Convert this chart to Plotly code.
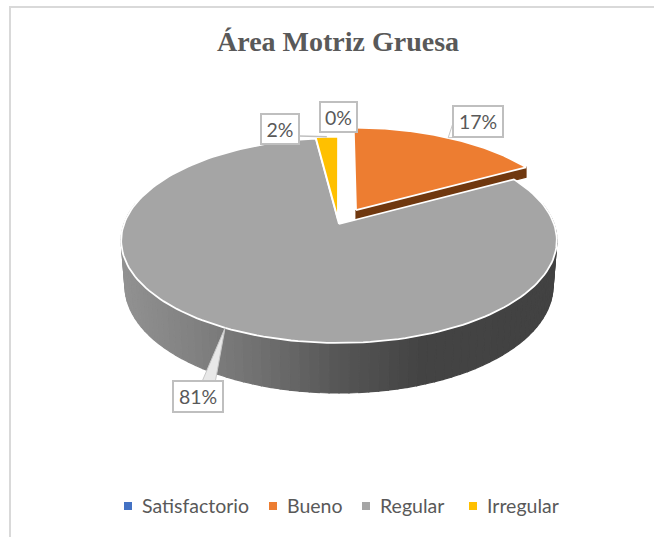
import math
import plotly.graph_objects as go

categories = ["Satisfactorio", "Bueno", "Regular", "Irregular"]
values = [0, 17, 81, 2]
percent_labels = ["0%", "17%", "81%", "2%"]
colors = ["#4472C4", "#ED7D31", "#A5A5A5", "#FFC000"]

W, H = 654, 537
CX, CY, CW, B = 339, 240.5, 215, 102.5
APEX_UP = 16.5
K = APEX_UP / B

# slice displacement in disc units: (du, dv, radius)
EXPLODE = {"Bueno": (0.081, 0.143, 1.0), "Regular": (0, 0, 1.0), "Irregular": (-0.005, 0.05, 0.97),
           "Satisfactorio": (0, 0, 1.0)}
# callout box centres and sizes
BOX = {"Satisfactorio": (338.5, 117, 35, 28), "Bueno": (477.5, 121.5, 48, 29),
       "Regular": (197.5, 396.5, 48, 29), "Irregular": (280, 129, 36, 28)}


def project(u, v):
    d = 1 + K * v
    return CX + CW * u / d, CY - (B * v + APEX_UP) / d


def lower(u, v):
    x, y = project(u, v)
    return CX + (x - CX) * 0.983, y + 44 - 6 * v


def rim(name, a):
    du, dv, r = EXPLODE[name]
    t = math.radians(a)
    return du + r * math.sin(t), dv + r * math.cos(t)


def arc(a0, a1, n):
    return [a0 + (a1 - a0) * i / n for i in range(n + 1)]


def wall_shade(x):
    stops = [(120, 146), (200, 128), (260, 112), (340, 86), (420, 68), (560, 66)]
    for (x0, g0), (x1, g1) in zip(stops, stops[1:]):
        if x <= x1:
            g = int(g0 + (g1 - g0) * (x - x0) / (x1 - x0))
            return f"rgb({g},{g},{g})"
    g = stops[-1][1]
    return f"rgb({g},{g},{g})"


# cumulative angles
total = sum(values)
angles = {}
start = 0
for c, val in zip(categories, values):
    end = start + 360 * val / total
    angles[c] = (start, end)
    start = end

fig = go.Figure()


def poly(pts, fill, line=None, lw=0):
    xs = [p[0] for p in pts] + [pts[0][0]]
    ys = [p[1] for p in pts] + [pts[0][1]]
    fig.add_trace(go.Scatter(x=xs, y=ys, mode="lines", fill="toself", fillcolor=fill,
                             line=dict(color=line or fill, width=lw if line else 1.2),
                             hoverinfo="skip", showlegend=False))


# front wall of the big slice, as shaded strips
a0, a1 = angles["Regular"]
strips = arc(max(a0, 78), min(a1, 282), 90)
for s0, s1 in zip(strips, strips[1:]):
    u0, v0 = rim("Regular", s0)
    u1, v1 = rim("Regular", s1)
    pts = [project(u0, v0), project(u1, v1), lower(u1, v1), lower(u0, v0)]
    poly(pts, wall_shade((pts[0][0] + pts[1][0]) / 2))

# cut face of the exploded slice
b0, b1 = angles["Bueno"]
ap = project(EXPLODE["Bueno"][0], EXPLODE["Bueno"][1])
end_pt = project(*rim("Bueno", b1))
poly([ap, end_pt, (end_pt[0], end_pt[1] + 10), (ap[0], ap[1] + 10)], "#70380F")

# top faces
for c, col in zip(categories, colors):
    a0, a1 = angles[c]
    if a1 - a0 <= 0:
        continue
    du, dv, r = EXPLODE[c]
    pts = [project(du, dv)] + [project(*rim(c, a)) for a in arc(a0, a1, 180)]
    poly(pts, col, "#FFFFFF", 1.8)

# callouts
annotations = []
for c, lab in zip(categories, percent_labels):
    a0, a1 = angles[c]
    tip = project(*rim(c, (a0 + a1) / 2))
    bx, by, bw, bh = BOX[c]
    if c == "Regular":
        poly([tip, (bx + 5, by - 16), (bx + 18, by - 16)], "#E8E8E8", "#C8C8C8", 1)
    elif c == "Bueno":
        poly([tip, (bx - 25, by + 3), (bx - 25, by + 16)], "#FFFFFF", "#C8C8C8", 1)
    elif c == "Irregular":
        fig.add_trace(go.Scatter(x=[bx + 19, tip[0]], y=[by + 7, tip[1]], mode="lines",
                                 line=dict(color="#BFBFBF", width=1.5), hoverinfo="skip", showlegend=False))
    annotations.append(dict(x=bx, y=by, xref="x", yref="y", text=lab, showarrow=False,
                            width=bw, height=bh, align="center", valign="middle",
                            font=dict(family="Lato", size=19.5, color="#595959"),
                            bgcolor="#FFFFFF", bordercolor="#BFBFBF", borderwidth=2, borderpad=0))

# legend row
legend_x = [128, 273, 366, 473]
for c, col, lx in zip(categories, colors, legend_x):
    fig.add_trace(go.Scatter(x=[lx], y=[506], mode="markers", name=c,
                             marker=dict(symbol="square", size=8, color=col), showlegend=False, hoverinfo="name"))
    annotations.append(dict(x=lx + 12, y=505, xref="x", yref="y", text=c, showarrow=False, xanchor="left",
                            font=dict(family="Lato", size=19.5, color="#595959")))

annotations.append(dict(x=338, y=41, xref="x", yref="y", text="<b>Área Motriz Gruesa</b>", showarrow=False,
                        font=dict(family="Liberation Serif", size=28, color="#595959")))

fig.update_layout(
    width=W, height=H, margin=dict(l=0, r=0, t=0, b=0),
    paper_bgcolor="#FFFFFF", plot_bgcolor="#FFFFFF", showlegend=False,
    xaxis=dict(range=[0, W], visible=False, fixedrange=True),
    yaxis=dict(range=[H, 0], visible=False, fixedrange=True),
    annotations=annotations,
    shapes=[dict(type="rect", xref="x", yref="y", x0=10, y0=7, x1=W + 10, y1=H + 10,
                 line=dict(color="#D9D9D9", width=2), layer="below")],
)
fig.write_html("out.html", config={"displayModeBar": False},
               post_script="document.body.style.margin='0';document.documentElement.style.overflow='hidden';")
